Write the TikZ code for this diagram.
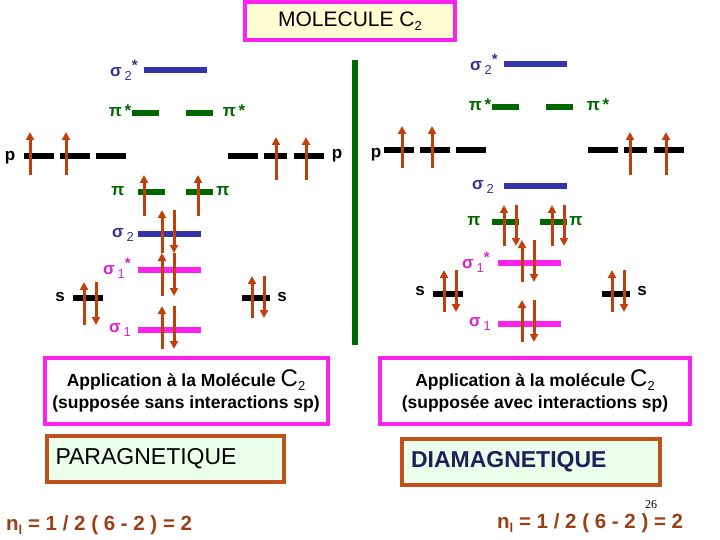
\documentclass[tikz,border=0pt]{standalone}
\usepackage{fontspec}
\setmainfont{Liberation Sans}
\usetikzlibrary{arrows.meta}
\definecolor{mblue}{HTML}{3333AA}
\definecolor{mgreen}{HTML}{006600}
\definecolor{mmag}{HTML}{FF22EE}
\definecolor{marr}{HTML}{C0400C}
\definecolor{tblue}{HTML}{333399}
\definecolor{tmag}{HTML}{DD22CC}
\definecolor{bbrown}{HTML}{C0501C}
\tikzset{
 lv/.style={line width=5.5pt},
 bl/.style={lv,mblue}, gl/.style={lv,mgreen}, ml/.style={lv,mmag}, kl/.style={lv,black},
 el/.style={line width=3pt,marr,-{Triangle[length=8pt,width=8pt]}},
 lab/.style={font=\fontsize{17}{17}\selectfont\bfseries,inner sep=0pt},
 bt/.style={lab,tblue}, gt/.style={lab,mgreen}, mt/.style={lab,tmag}, kt/.style={lab,black},
}
\newcommand{\sbs}[1]{\raisebox{-4pt}{\fontsize{13}{13}\selectfont\mdseries #1}}
\newcommand{\st}{\raisebox{6pt}{\fontsize{15}{15}\selectfont *}}
\begin{document}
\begin{tikzpicture}[x=1pt,y=-1pt]
\useasboundingbox (0,0) rectangle (720,540);
% title
\node[draw=mmag,line width=4pt,fill=yellow!18,minimum width=210,minimum height=38,font=\fontsize{21}{21}\selectfont] (title) at (350,21) {MOLECULE C\sbs{2}};
\fill[mgreen] (352,60) rectangle (358,345);
% ===== left =====
\draw[bl] (144,70) -- (207,70); \node[bt] (l1) at (124,70) {σ\,\sbs{2}\st};
\draw[gl] (132,113) -- (159,113); \draw[gl] (186,113) -- (213,113);
\node[gt] (l2) at (120,111) {π\,*}; \node[gt] (l3) at (234,111) {π\,*};
\foreach \a/\b in {24/54,60/90,96/126,228/258,264/287,294/324} \draw[kl] (\a,156)--(\b,156);
\node[kt] (l4) at (10,158) {p}; \node[kt] (l5) at (337,156) {p};
\foreach \x in {30,66} \draw[el] (\x,175)--(\x,132);
\foreach \x in {276,306} \draw[el] (\x,180)--(\x,137);
\draw[gl] (138,192)--(165,192); \draw[gl] (186,192)--(213,192);
\node[gt] (l6) at (118,191) {π}; \node[gt] (l7) at (223,191) {π};
\foreach \x in {144,198} \draw[el] (\x,216)--(\x,175);
\draw[bl] (138,234)--(201,234); \node[bt] (l8) at (123,235) {σ\,\sbs{2}};
\draw[ml] (138,270)--(201,270); \node[mt] (l9) at (117,268) {σ\,\sbs{1}\st};
\draw[kl] (73,298)--(103,298); \node[kt] (l10) at (60,297) {s};
\draw[kl] (242,298)--(270,298); \node[kt] (l11) at (282,297) {s};
\draw[ml] (138,330)--(201,330); \node[mt] (l12) at (120,330) {σ\,\sbs{1}};
\foreach \y in {210,253,306}{\draw[el] (162,\y+43)--(162,\y); \draw[el] (174,\y)--(174,\y+43);}
\draw[el] (84,325)--(84,282); \draw[el] (96,282)--(96,325);
\draw[el] (252,318)--(252,276); \draw[el] (264,276)--(264,318);
% ===== right =====
\draw[bl] (504,64)--(567,64); \node[bt] (r1) at (484,64) {σ\,\sbs{2}\st};
\draw[gl] (492,107)--(519,107); \draw[gl] (546,107)--(573,107);
\node[gt] (r2) at (480,105) {π\,*}; \node[gt] (r3) at (598,105) {π\,*};
\foreach \a/\b in {384/414,420/450,456/486,588/618,624/647,654/684} \draw[kl] (\a,150)--(\b,150);
\node[kt] (r4) at (376,155) {p};
\foreach \x in {402,432} \draw[el] (\x,168)--(\x,126);
\foreach \x in {630,666} \draw[el] (\x,175)--(\x,132);
\draw[bl] (504,186)--(567,186); \node[bt] (r5) at (483,187) {σ\,\sbs{2}};
\draw[gl] (492,222)--(519,222); \draw[gl] (540,222)--(567,222);
\node[gt] (r6) at (474,221) {π}; \node[gt] (r7) at (576,221) {π};
\foreach \x in {504,552}{\draw[el] (\x,246)--(\x,205); \draw[el] (\x+12,205)--(\x+12,246);}
\draw[ml] (498,263)--(561,263); \node[mt] (r8) at (476,262) {σ\,\sbs{1}\st};
\draw[ml] (498,324)--(561,324); \node[mt] (r9) at (480,324) {σ\,\sbs{1}};
\foreach \y in {240,300}{\draw[el] (522,\y+42)--(522,\y); \draw[el] (534,\y)--(534,\y+42);}
\draw[kl] (433,294)--(463,294); \node[kt] (r10) at (420,291) {s};
\draw[kl] (602,294)--(630,294); \node[kt] (r11) at (642,291) {s};
\foreach \x in {444,612}{\draw[el] (\x,312)--(\x,270); \draw[el] (\x+12,270)--(\x+12,312);}
% ===== boxes =====
\node[draw=mmag,line width=4pt,fill=white,minimum width=283,minimum height=66,align=center,font=\fontsize{17.5}{21}\selectfont\bfseries] (bl) at (186,391) {Application à la Molécule {\mdseries\fontsize{24}{24}\selectfont C}\sbs{2}\\[1pt](supposée sans interactions sp)};
\node[draw=mmag,line width=4pt,fill=white,minimum width=310,minimum height=66,align=center,font=\fontsize{17.5}{21}\selectfont\bfseries] (br) at (535,391) {Application à la molécule {\mdseries\fontsize{24}{24}\selectfont C}\sbs{2}\\[1pt](supposée avec interactions sp)};
\node[draw=bbrown,line width=4pt,fill=green!8,minimum width=237,minimum height=46,font=\fontsize{23}{23}\selectfont,text=black,text width=225] (pa) at (165,459) {\hspace*{3pt}\raisebox{6pt}{PARAGNETIQUE}};
\node[draw=bbrown,line width=4pt,fill=green!8,minimum width=258,minimum height=46,font=\fontsize{23}{23}\selectfont\bfseries,text=tblue!60!black,text width=240] (di) at (531,462) {\raisebox{-3pt}{DIAMAGNETIQUE}};
\node[font=\fontsize{12}{12}\selectfont,inner sep=0pt] (pg) at (651,505) {\fontspec{Liberation Serif}26};
\node[anchor=west,font=\fontsize{20.5}{20.5}\selectfont\bfseries,text=bbrown!80!black,inner sep=0pt] (f1) at (6,525) {n\raisebox{-4pt}{\fontsize{13}{13}\selectfont l} = 1 / 2 ( 6 - 2 ) = 2};
\node[anchor=west,font=\fontsize{20.5}{20.5}\selectfont\bfseries,text=bbrown!80!black,inner sep=0pt] (f2) at (497,523) {n\raisebox{-4pt}{\fontsize{13}{13}\selectfont l} = 1 / 2 ( 6 - 2 ) = 2};
\end{tikzpicture}
\end{document}
